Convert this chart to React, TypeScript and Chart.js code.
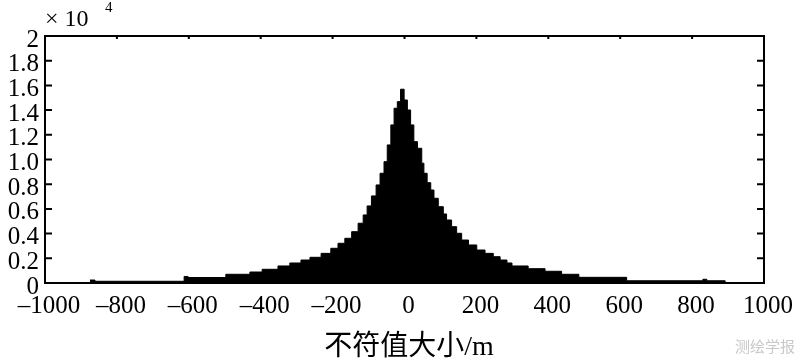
import React, { useEffect, useRef } from "react";
import { Chart, registerables } from "chart.js";

Chart.register(...registerables);

// Histogram bin edges (m) and counts
const binEdges = [
  -875, -861, -613, -602, -497, -430, -396, -352, -319, -288,
  -263, -232, -205, -185, -166, -147, -129, -115, -104, -92,
  -79, -68, -57, -48, -38, -29, -20, -11, -1, 8,
  17, 26, 36, 48, 54, 63, 73, 82, 94, 108,
  117, 131, 145, 159, 178, 201, 224, 247, 266, 285,
  299, 344, 391, 437, 485, 618, 830, 841, 892,
];
const binCounts = [
  240, 140, 530, 445, 705, 890, 1110, 1380, 1620,
  1860, 2080, 2400, 2810, 3215, 3620, 4155, 4840, 5510, 6240,
  7050, 7940, 8885, 9825, 11180, 12800, 14150, 14685, 15690, 14820,
  14010, 12800, 11445, 10910, 9700, 8885, 8125, 7530, 6860, 6180,
  5590, 5100, 4560, 4025, 3480, 3080, 2670, 2400, 2130, 1860,
  1620, 1380, 1160, 950, 705, 460, 180, 300, 180,
];

const xTickValues = [-1000, -800, -600, -400, -200, 0, 200, 400, 600, 800, 1000];
const xTickLabels = ["–1000", "–800", "–600", "–400", "–200", "0", "200", "400", "600", "800", "1000"];
const yTickValues = [0, 2000, 4000, 6000, 8000, 10000, 12000, 14000, 16000, 18000, 20000];
const yTickLabels = ["0", "0.2", "0.4", "0.6", "0.8", "1.0", "1.2", "1.4", "1.6", "1.8", "2"];

const xTitle = "不符值大小/m";
const watermark = "测绘学报";

const SERIF = "'Liberation Serif', 'Times New Roman', serif";

const framePlugin = {
  id: "frame",
  afterDatasetsDraw(chart: any) {
    const { ctx, chartArea } = chart;
    const xs = chart.scales.x;
    const ys = chart.scales.y;
    const { left, right, top, bottom } = chartArea;
    ctx.save();
    ctx.strokeStyle = "#000";
    ctx.lineWidth = 2;
    ctx.strokeRect(left, top, right - left, bottom - top);
    ctx.beginPath();
    for (const v of yTickValues) {
      const py = ys.getPixelForValue(v);
      ctx.moveTo(left, py);
      ctx.lineTo(left + 7, py);
      ctx.moveTo(right, py);
      ctx.lineTo(right - 7, py);
    }
    for (const v of xTickValues) {
      const px = xs.getPixelForValue(v);
      ctx.moveTo(px, top);
      ctx.lineTo(px, top + 3);
    }
    ctx.stroke();

    // exponent label
    ctx.fillStyle = "#000";
    ctx.textBaseline = "alphabetic";
    ctx.textAlign = "left";
    ctx.font = `24px ${SERIF}`;
    ctx.fillText("× 10", left, top - 10);
    ctx.font = `15px ${SERIF}`;
    ctx.fillText("4", left + 60, top - 24);

    // axis title
    ctx.textAlign = "center";
    ctx.font = `28px 'Liberation Serif', 'Noto Sans CJK SC', serif`;
    ctx.fillText(xTitle, 409, 355);

    // watermark
    ctx.textAlign = "right";
    ctx.fillStyle = "#c8c8c8";
    ctx.font = `15px 'Noto Sans CJK SC', sans-serif`;
    ctx.fillText(watermark, 795, 352);
    ctx.restore();
  },
};

export default function App() {
  const ref = useRef<HTMLCanvasElement>(null);
  useEffect(() => {
    if (!ref.current) return;
    const pts = binCounts.map((c, i) => ({ x: binEdges[i], y: c }));
    pts.push({ x: binEdges[binEdges.length - 1], y: 0 });
    const chart = new Chart(ref.current, {
      type: "line",
      data: {
        datasets: [
          {
            data: pts,
            stepped: "before",
            fill: "origin",
            backgroundColor: "#000",
            borderColor: "#000",
            borderWidth: 1,
            pointRadius: 0,
          } as any,
        ],
      },
      options: {
        responsive: false,
        animation: false,
        layout: { padding: { top: 36, right: 36, left: 0, bottom: 0 } },
        plugins: { legend: { display: false }, tooltip: { enabled: false } },
        scales: {
          x: {
            type: "linear",
            min: -1000,
            max: 1000,
            afterBuildTicks: (s: any) => {
              s.ticks = xTickValues.map((v) => ({ value: v }));
            },
            afterFit: (s: any) => {
              s.height = 80;
            },
            ticks: {
              autoSkip: false,
              maxRotation: 0,
              padding: 8,
              labelOffset: 4,
              color: "#000",
              font: { family: SERIF, size: 25 },
              callback: (v: any) => {
                const i = xTickValues.indexOf(Number(v));
                return i >= 0 ? xTickLabels[i] : "";
              },
            },
            grid: { display: false, drawTicks: false },
            border: { display: false },
          },
          y: {
            type: "linear",
            min: 0,
            max: 20000,
            afterBuildTicks: (s: any) => {
              s.ticks = yTickValues.map((v) => ({ value: v }));
            },
            afterFit: (s: any) => {
              s.width = 45;
            },
            ticks: {
              autoSkip: false,
              padding: 6,
              labelOffset: 4,
              color: "#000",
              font: { family: SERIF, size: 25 },
              callback: (v: any) => {
                const i = yTickValues.indexOf(Number(v));
                return i >= 0 ? yTickLabels[i] : "";
              },
            },
            grid: { display: false, drawTicks: false },
            border: { display: false },
          },
        },
      },
      plugins: [framePlugin],
    });
    return () => chart.destroy();
  }, []);
  return (
    <div style={{ position: "absolute", left: 0, top: 0, width: 800, height: 363, background: "#fff" }}>
      <canvas ref={ref} width={800} height={363} style={{ display: "block" }} />
    </div>
  );
}
